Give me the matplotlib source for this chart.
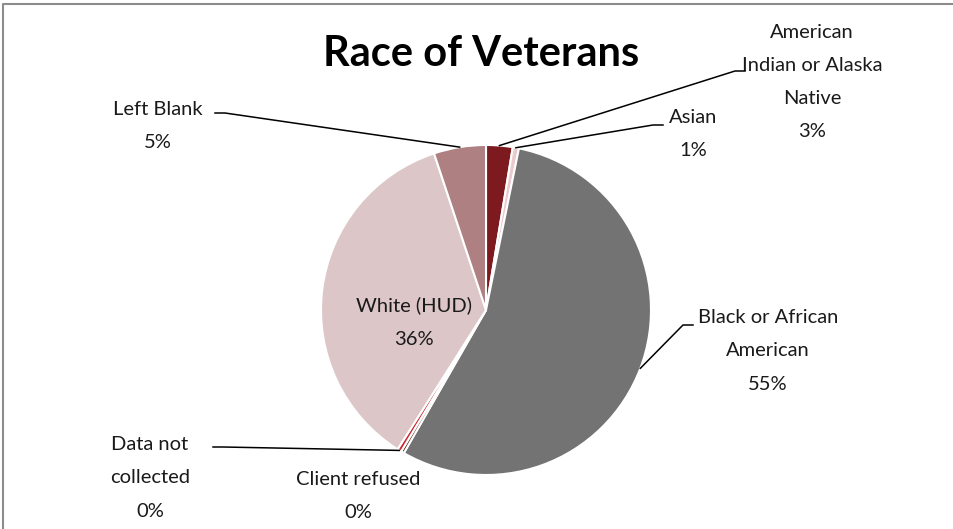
"""Race of Veterans pie chart."""

import numpy as np
import matplotlib.pyplot as plt

FIG_W_PX = 954
FIG_H_PX = 529
DPI = 100

FONT = "Lato"
LABEL_FONTSIZE = 14.5
TITLE_FONTSIZE = 30
LINESPACING = 2.15
STUB_PX = 10

# data (percent of veterans), clockwise from 12 o'clock
categories = [
    "American\nIndian or Alaska\nNative",
    "Asian",
    "Black or African\nAmerican",
    "Client refused",
    "Data not\ncollected",
    "White (HUD)",
    "Left Blank",
]
shares = [2.6, 0.6, 55.1, 0.3, 0.4, 35.9, 5.1]
colors = ["#7d1a20", "#ecc9cc", "#737373", "#5a1a12", "#c9262c", "#dcc6c7", "#ae8081"]

# label placement in pixel space (image coords, y down): text centre, leader start at label
label_pos = [(812, 82), (693, 134), (768, 351), (358, 496), (150, 478), (414, 322), (158, 126)]
leader_end = [(745, 71), (663, 125), (693, 325), None, (213, 447), None, (215, 113)]
leader_side = [-1, -1, -1, 0, 1, 0, 1]  # direction from label towards the pie

PIE_CENTER = (486, 310)
PIE_RADIUS = 165


def img_xy(x, y):
    return x, FIG_H_PX - y


fig = plt.figure(figsize=(FIG_W_PX / DPI, FIG_H_PX / DPI), dpi=DPI)
ax = fig.add_axes([0, 0, 1, 1])

cx, cy = img_xy(*PIE_CENTER)
wedges, _ = ax.pie(
    shares,
    colors=colors,
    startangle=90,
    counterclock=False,
    center=(cx, cy),
    radius=PIE_RADIUS,
    frame=True,
    wedgeprops={"edgecolor": "white", "linewidth": 1.5},
)
ax.set_xlim(0, FIG_W_PX)
ax.set_ylim(0, FIG_H_PX)
ax.set_aspect("equal")
ax.axis("off")

for i, (name, share) in enumerate(zip(categories, shares)):
    tx, ty = img_xy(*label_pos[i])
    ax.text(
        tx, ty, f"{name}\n{share:.0f}%",
        ha="center", va="center", fontsize=LABEL_FONTSIZE, family=FONT,
        linespacing=LINESPACING, color="#1a1a1a",
    )
    if leader_end[i] is None:
        continue
    w = wedges[i]
    mid = np.deg2rad((w.theta1 + w.theta2) / 2)
    sx = cx + PIE_RADIUS * np.cos(mid)
    sy = cy + PIE_RADIUS * np.sin(mid)
    ex, ey = img_xy(*leader_end[i])
    ax.plot([ex, ex + STUB_PX * leader_side[i], sx], [ey, ey, sy],
            color="black", lw=1.1, zorder=5)

tx, ty = img_xy(481, 54)
ax.text(tx, ty, "Race of Veterans", ha="center", va="center",
        fontsize=TITLE_FONTSIZE, fontweight="bold", family=FONT)

# chart area border
bx, by = img_xy(3, 4)
ax.plot([bx, bx, FIG_W_PX + 5], [-5, by, by], color="#8c8c8c", lw=1.5, clip_on=False)

fig.savefig("out.png", dpi=DPI)
